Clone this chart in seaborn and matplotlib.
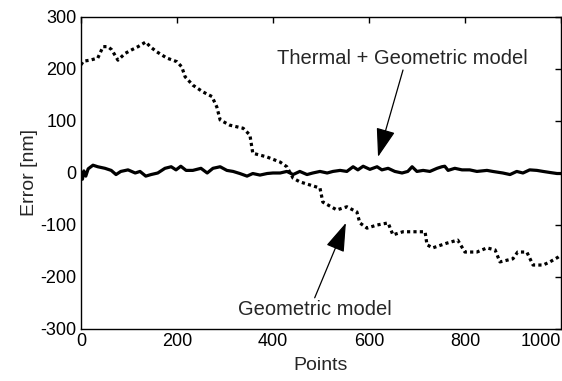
import pandas as pd
import seaborn as sns
import matplotlib.pyplot as plt

# thermal + geometric model (solid line)
thermal_x = [0, 3, 6, 10, 15, 25, 35, 50, 63, 73, 83, 98, 113, 123, 135, 146, 160, 175, 188, 198,
             208, 219, 233, 250, 263, 275, 290, 304, 317, 331, 346, 358, 373, 388, 400, 415, 429,
             442, 456, 471, 483, 498, 513, 525, 540, 554, 567, 577, 588, 602, 617, 627, 640, 654,
             669, 681, 690, 700, 713, 727, 742, 752, 758, 765, 779, 794, 810, 825, 846, 858, 879,
             894, 908, 921, 935, 950, 963, 977, 992, 1000]
thermal_y = [-3, -12, 4, -6, 8, 15, 12, 9, 5, -3, 3, 6, 0, 3, -6, -3, 0, 9, 12, 6,
             13, 5, 5, 9, 0, 9, 12, 5, 3, -1, -6, -1, -4, -1, 0, 0, 3,
             -3, 3, -3, 0, 3, 0, 3, 5, 3, 12, 6, 13, 7, 12, 6, 9, 3,
             0, 3, 12, 3, 5, 3, 9, 12, 13, 5, 9, 6, 6, 3, 5, 3, 0,
             -3, 3, 0, 6, 5, 3, 1, -1, -1]

# geometric model (dotted line)
geom_x = [0, 5, 19, 35, 46, 56, 64, 77, 92, 106, 119, 135, 144, 158, 179, 200, 210, 217, 233, 254,
          273, 283, 290, 310, 338, 352, 358, 387, 415, 429, 442, 456, 477, 498, 504, 533, 554, 575,
          581, 596, 617, 640, 650, 671, 700, 717, 721, 733, 762, 785, 800, 825, 846, 863, 873, 900,
          910, 929, 942, 963, 977, 994, 1000]
geom_y = [208, 215, 217, 221, 243, 243, 237, 217, 230, 237, 243, 252, 243, 233, 221, 214, 204, 185, 169, 156,
          147, 127, 102, 92, 86, 73, 38, 31, 21, 12, -10, -17, -23, -29, -56, -71, -65, -75,
          -96, -106, -100, -96, -119, -113, -113, -113, -138, -144, -135, -129, -152, -152, -144, -148, -171, -165,
          -152, -152, -177, -177, -171, -162, -158]

x_ticks = [0, 200, 400, 600, 800, 1000]
y_ticks = [-300, -200, -100, 0, 100, 200, 300]

sns.set_style("white")
plt.rcParams["font.family"] = ["Liberation Sans", "DejaVu Sans"]
plt.rcParams["font.size"] = 13
plt.rcParams["axes.unicode_minus"] = False
plt.rcParams["xtick.direction"] = "in"
plt.rcParams["ytick.direction"] = "in"

fig = plt.figure(figsize=(5.62, 3.81), dpi=100)
ax = fig.add_axes([0.1441, 0.1365, 0.8539, 0.8189])

sns.lineplot(x=thermal_x, y=thermal_y, ax=ax, color="black", linewidth=2.3)
sns.lineplot(x=geom_x, y=geom_y, ax=ax, color="black", linewidth=2.3, dashes=False)
ax.lines[-1].set_dashes([1.0, 1.0])

ax.set_xlim(0, 1000)
ax.set_ylim(-300, 300)
ax.set_xticks(x_ticks)
ax.set_yticks(y_ticks)
ax.tick_params(top=True, right=True, length=4, width=1, colors="black", labelsize=13, pad=3)
labels = ax.get_xticklabels()
labels[-1].set_horizontalalignment("right")
for s in ax.spines.values():
    s.set_color("black")
    s.set_linewidth(1)

ax.set_xlabel("Points", fontsize=14, labelpad=5)
ax.set_ylabel("Error [nm]", fontsize=14, labelpad=2)

arrow = dict(arrowstyle="-|>,head_length=0.9,head_width=0.3", color="black", lw=0.9,
             mutation_scale=20, shrinkA=0, shrinkB=0)
ax.text(669, 221, "Thermal + Geometric model", ha="center", va="center", fontsize=14.5)
ax.annotate("", xy=(619, 31), xytext=(671, 198), arrowprops=arrow)
ax.text(487, -262, "Geometric model", ha="center", va="center", fontsize=14.5)
ax.annotate("", xy=(552, -96), xytext=(487, -240), arrowprops=arrow)

fig.savefig("out.png", dpi=100)
